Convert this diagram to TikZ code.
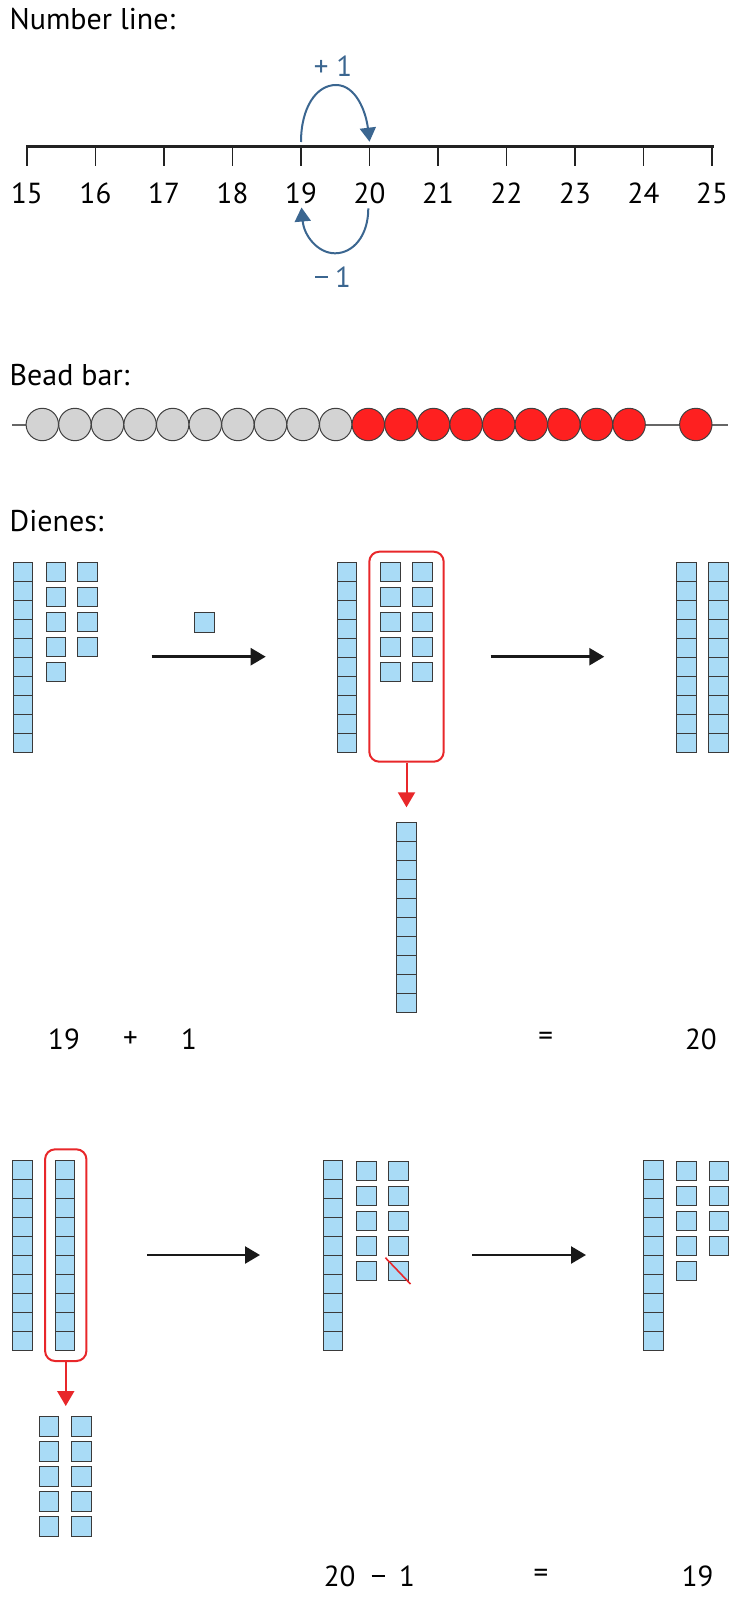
\documentclass[tikz,border=0pt]{standalone}
\usepackage{fontspec}
\setmainfont{PT Sans}
\usetikzlibrary{arrows.meta}

\definecolor{cubefill}{HTML}{A9DBF6}
\definecolor{cubeline}{HTML}{3A3A3A}
\definecolor{hopblue}{HTML}{3B6690}
\definecolor{beadgrey}{HTML}{D3D3D3}
\definecolor{beadred}{HTML}{FE2020}
\definecolor{boxred}{HTML}{E8272A}
\definecolor{axis}{HTML}{222222}

\tikzset{
  heading/.style={anchor=base west, inner sep=0pt, font=\fontsize{30}{36}\selectfont},
  numlabel/.style={inner sep=0pt, font=\fontsize{29}{34}\selectfont},
  hoplabel/.style={inner sep=0pt, text=hopblue, font=\fontsize{29}{34}\selectfont},
  hop/.style={hopblue, line width=2pt, -{Triangle[length=14pt, width=16pt]}},
  bead/.style={circle, draw=black!75, line width=1pt, minimum size=32.4pt, inner sep=0pt},
  cube/.style={rectangle, draw=cubeline, fill=cubefill, line width=1pt,
               minimum width=19.5pt, minimum height=19.5pt, inner sep=0pt, anchor=north west},
  rodcell/.style={cube, minimum height=19pt},
  move/.style={black!90, line width=2.5pt, -{Triangle[length=15pt, width=17pt]}},
  groupbox/.style={rectangle, draw=boxred, line width=2pt, rounded corners=10pt, inner sep=0pt},
  regroup/.style={boxred, line width=2pt, -{Triangle[length=15pt, width=17pt]}}
}

% a ten-rod: name, left x, top y
\newcommand{\tenrod}[3]{%
  \foreach \k in {0,...,9}
    \node[rodcell] (#1-\k) at (#2,{#3+19*\k}) {};
}
% a column of unit cubes: name, left x, top y, count
\newcommand{\cubecol}[4]{%
  \foreach \k in {1,...,#4}
    \node[cube] (#1-\k) at (#2,{#3+25*(\k-1)}) {};
}
% a minus sign sitting at the middle of the digits
\newcommand{\minussign}{\raisebox{9pt}{\rule{13pt}{1.9pt}}}

\begin{document}
\begin{tikzpicture}[x=1pt, y=-1pt]
\useasboundingbox (0,0) rectangle (744,1600);

% ---------------- number line ----------------
\node[heading] (nlhead) at (9.5,29.3) {Number line:};

\coordinate (axL) at (26,146.7);
\coordinate (axR) at (713.5,146.7);
\draw[axis, line width=3pt] (axL) -- (axR);
\foreach \n [count=\i from 0] in {15,...,25} {
  \coordinate (t\n) at ({27+68.5*\i},146.7);
  \draw[axis, line width=1.6pt] (t\n) -- ++(0,19);
  \node[numlabel] (lab\n) at ({27+68.5*\i},193.3) {\n};
}

% +1 hop above, -1 hop below
\coordinate (upA) at (301,142);
\coordinate (upB) at (369.5,141.7);
\draw[hop] (upA) .. controls (301,108) and (316,85) .. (336,85)
                .. controls (356,85) and (366,112) .. (upB);
\node[hoplabel] (plusone) at (333,66) {+\hspace{8pt}1};

\coordinate (dnA) at (368.3,208.3);
\coordinate (dnB) at (301.5,207.5);
\draw[hop] (dnA) .. controls (368.3,236) and (353,253.3) .. (335,253.3)
                .. controls (318,253.3) and (304,236) .. (dnB);
\node[hoplabel] (minusone) at (333,276.7) {\color{hopblue}\minussign\hspace{7pt}1};

% ---------------- bead bar ----------------
\node[heading] (bbhead) at (9.5,385) {Bead bar:};
\coordinate (barL) at (12,425);
\coordinate (barR) at (727.6,425);
\draw[black!60, line width=1.5pt] (barL) -- (barR);
\foreach \i in {0,...,9}
  \node[bead, fill=beadgrey] (g\i) at ({42.3+32.6*\i},424.5) {};
\foreach \i in {10,...,18}
  \node[bead, fill=beadred] (r\i) at ({42.3+32.6*\i},424.5) {};
\node[bead, fill=beadred] (rlast) at (695.8,424.5) {};

% ---------------- Dienes ----------------
\node[heading] (dhead) at (9.5,531.7) {Dienes:};

% 19 + 1 = 20
\tenrod{aR}{12.7}{561.7}
\cubecol{aU1}{45.7}{561.7}{5}
\cubecol{aU2}{77.3}{561.7}{4}
\node[cube] (single) at (194,612.3) {};

\coordinate (m1s) at (151.7,656.7);
\coordinate (m1e) at (265.7,656.7);
\draw[move] (m1s) -- (m1e);

\tenrod{bR}{336.7}{561.7}
\node[groupbox, minimum width=74.4pt, minimum height=210pt, anchor=north west] (boxA) at (368.3,550.7) {};
\cubecol{bU1}{380}{561.7}{5}
\cubecol{bU2}{412.3}{561.7}{5}
\coordinate (tenA) at (405.5,807.3);
\draw[regroup] (boxA.south) -- (boxA.south |- tenA);
\tenrod{newR}{396}{822.3}

\coordinate (m2s) at (490.7,656.7);
\coordinate (m2e) at (604.3,656.7);
\draw[move] (m2s) -- (m2e);

\tenrod{cR1}{676}{561.7}
\tenrod{cR2}{708.3}{561.7}

\node[numlabel] (e1a) at (64,1039.3) {19};
\node[numlabel] (e1b) at (130.5,1039.3) {+};
\node[numlabel] (e1c) at (189,1039.3) {1};
\node[numlabel] (e1d) at (545.8,1039.3) {=};
\node[numlabel] (e1e) at (700.8,1039.3) {20};

% 20 - 1 = 19
\tenrod{dR1}{12}{1160}
\tenrod{dR2}{54.6}{1160}
\node[groupbox, minimum width=41.3pt, minimum height=211.7pt, anchor=north west] (boxB) at (44.1,1148.3) {};
\coordinate (unitsB) at (64.75,1406);
\draw[regroup] (boxB.south) -- (boxB.south |- unitsB);
\cubecol{dU1}{38.9}{1416}{5}
\cubecol{dU2}{71.2}{1416}{5}

\coordinate (m3s) at (147,1255);
\coordinate (m3e) at (260,1255);
\draw[move] (m3s) -- (m3e);

\tenrod{eR}{322.7}{1160}
\cubecol{eU1}{356}{1160.7}{5}
\cubecol{eU2}{388.2}{1160.7}{5}
\coordinate (slashA) at (385.4,1257.7);
\coordinate (slashB) at (410.5,1284);
\draw[boxred, line width=1.6pt] (slashA) -- (slashB);

\coordinate (m4s) at (472,1255);
\coordinate (m4e) at (586,1255);
\draw[move] (m4s) -- (m4e);

\tenrod{fR}{643}{1160}
\cubecol{fU1}{676.3}{1160.7}{5}
\cubecol{fU2}{708.6}{1160.7}{4}

\node[numlabel] (e2a) at (339.7,1576) {20};
\node[numlabel] (e2b) at (378,1576) {\vphantom{1}\minussign};
\node[numlabel] (e2c) at (407,1576) {1};
\node[numlabel] (e2d) at (541,1576) {=};
\node[numlabel] (e2e) at (697.7,1576) {19};
\end{tikzpicture}
\end{document}
